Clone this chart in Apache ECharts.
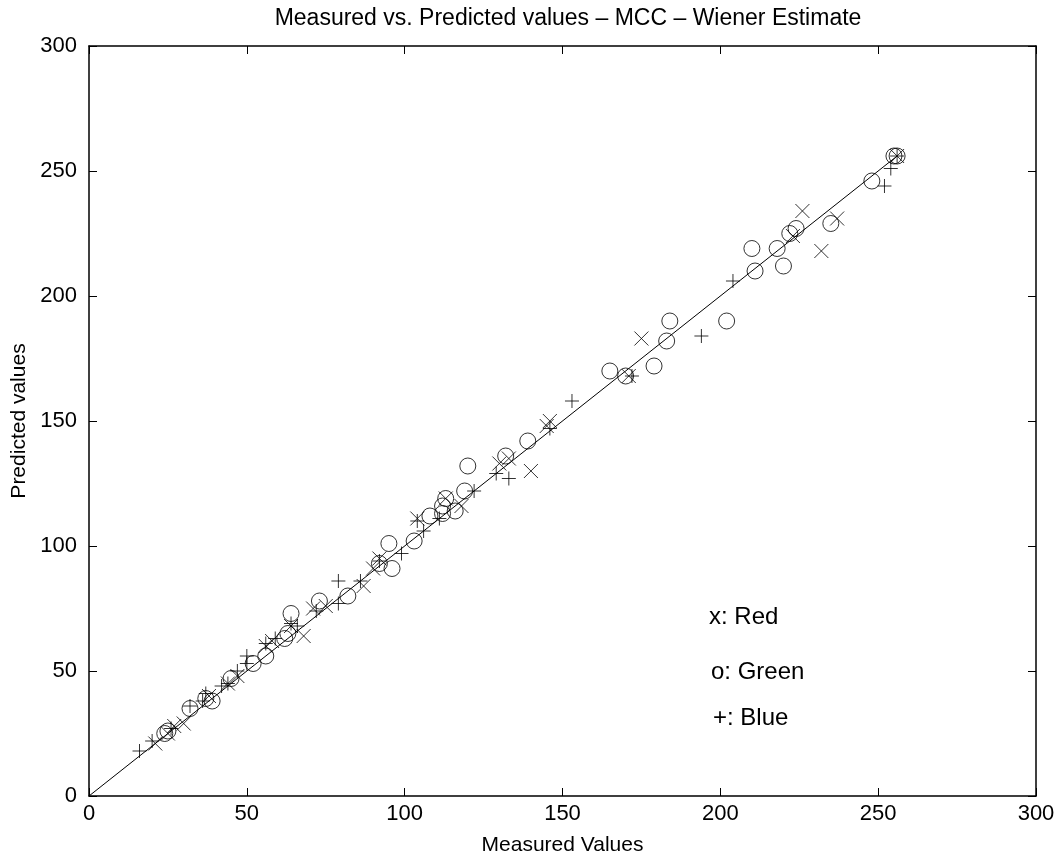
<!DOCTYPE html>
<html>
<head>
<meta charset="utf-8">
<script src="https://cdn.jsdelivr.net/npm/echarts@6/dist/echarts.min.js"></script>
<style>
  html, body { margin: 0; padding: 0; background: #fff; }
  #chart { width: 1060px; height: 858px; }
</style>
</head>
<body>
<div id="chart"></div>
<script>
// measured / predicted pairs
const redPoints = [
  [256, 256], [226, 234], [232, 218], [237, 231], [223, 224], [175, 183],
  [171, 168], [140, 130], [146, 150], [145, 148], [133, 135], [130, 133],
  [118, 116], [113, 119], [104, 111], [92, 95], [90, 91], [87, 84],
  [75, 76], [71, 75], [68, 64], [64, 68], [58, 62], [56, 60],
  [47, 48], [44, 45], [38, 40], [30, 29], [27, 28], [25, 25], [21, 21]
];
const greenPoints = [
  [256, 256], [255, 256], [248, 246], [210, 219], [211, 210], [218, 219],
  [220, 212], [222, 225], [224, 227], [235, 229], [184, 190], [183, 182],
  [202, 190], [165, 170], [170, 168], [179, 172], [139, 142], [132, 136],
  [120, 132], [119, 122], [113, 119], [112, 116], [116, 114], [112, 113],
  [108, 112], [103, 102], [95, 101], [96, 91], [92, 93], [82, 80],
  [73, 78], [64, 73], [63, 65], [62, 63], [56, 56], [52, 53],
  [45, 47], [39, 38], [37, 39], [32, 35], [25, 26], [24, 25]
];
const bluePoints = [
  [256, 256], [254, 251], [252, 244], [204, 206], [194, 184], [172, 168],
  [153, 158], [146, 147], [133, 127], [129, 129], [122, 122], [111, 111],
  [106, 106], [104, 110], [99, 97], [92, 94], [86, 86], [79, 86],
  [79, 77], [72, 74], [66, 68], [64, 69], [59, 63], [56, 61],
  [50, 56], [50, 53], [47, 50], [44, 45], [42, 44], [37, 41],
  [36, 38], [32, 36], [26, 27], [20, 22], [16, 18]
];
const idealLine = [[0, 0], [256, 256]];
const axisTicks = [0, 50, 100, 150, 200, 250, 300];

const font = '"Liberation Sans", Arial, sans-serif';
const crossPath = 'path://M0,0L10,10M10,0L0,10';
const plusPath = 'path://M5,0L5,10M0,5L10,5';

let chart = echarts.init(document.getElementById('chart'));

function markStyle() {
  return { color: 'none', borderColor: '#000', borderWidth: 1 };
}

function axisBase(show) {
  return {
    type: 'value',
    min: axisTicks[0],
    max: axisTicks[axisTicks.length - 1],
    interval: 50,
    splitLine: { show: false },
    axisLine: { show: true, onZero: false, lineStyle: { color: '#000', width: 1.5 } },
    axisTick: { show: true, inside: true, length: 8, lineStyle: { color: '#000', width: 1 } },
    axisLabel: { show: show, color: '#000', fontFamily: font, fontSize: 22 }
  };
}

let xMain = Object.assign(axisBase(true), {
  position: 'bottom',
  name: 'Measured Values',
  nameLocation: 'middle',
  nameGap: 39,
  nameTextStyle: { color: '#000', fontFamily: font, fontSize: 21 }
});
xMain.axisLabel.margin = 7;
let xTop = Object.assign(axisBase(false), { position: 'top' });

let yMain = Object.assign(axisBase(true), {
  position: 'left',
  name: 'Predicted values',
  nameLocation: 'middle',
  nameGap: 56,
  nameTextStyle: { color: '#000', fontFamily: font, fontSize: 21 }
});
yMain.axisLabel.margin = 12;
let yRight = Object.assign(axisBase(false), { position: 'right' });

function note(text, x, y) {
  return {
    type: 'text', x: x, y: y,
    style: { text: text, fill: '#000', font: '24px ' + font, textVerticalAlign: 'middle' }
  };
}

let option = {
  backgroundColor: '#fff',
  animation: false,
  title: {
    text: 'Measured vs. Predicted values \u2013 MCC \u2013 Wiener Estimate',
    left: 563,
    textAlign: 'center',
    top: 2,
    textStyle: { color: '#000', fontFamily: font, fontSize: 23, fontWeight: 'normal' }
  },
  grid: { left: 89, right: 24, top: 46, bottom: 62, outerBoundsMode: 'none' },
  xAxis: [xMain, xTop],
  yAxis: [yMain, yRight],
  series: [
    {
      type: 'line',
      data: idealLine,
      showSymbol: false,
      lineStyle: { color: '#000', width: 1 },
      z: 1
    },
    {
      name: 'Red',
      type: 'scatter',
      data: redPoints,
      symbol: crossPath,
      symbolSize: 14,
      itemStyle: markStyle(),
      z: 2
    },
    {
      name: 'Green',
      type: 'scatter',
      data: greenPoints,
      symbol: 'circle',
      symbolSize: 16,
      itemStyle: markStyle(),
      z: 2
    },
    {
      name: 'Blue',
      type: 'scatter',
      data: bluePoints,
      symbol: plusPath,
      symbolSize: 14,
      itemStyle: markStyle(),
      z: 2
    }
  ],
  graphic: [
    note('x: Red', 709, 617),
    note('o: Green', 711, 672),
    note('+: Blue', 713, 718)
  ]
};

chart.setOption(option);
</script>
</body>
</html>
